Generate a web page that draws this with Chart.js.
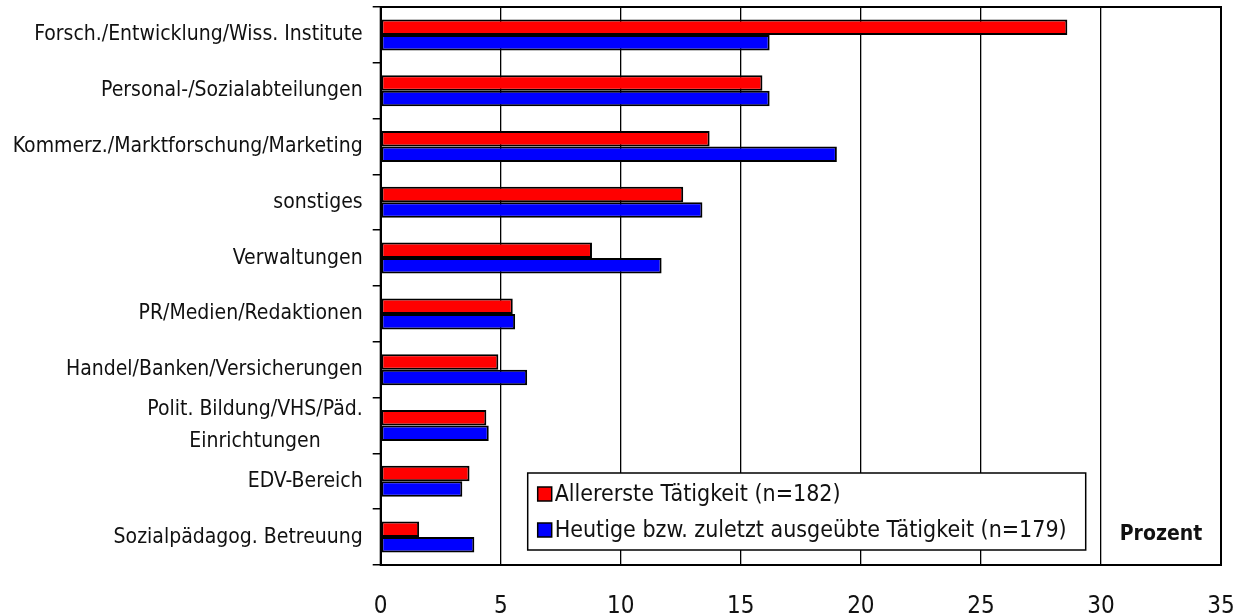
<!DOCTYPE html>
<html>
<head>
<meta charset="utf-8">
<script src="https://cdn.jsdelivr.net/npm/chart.js@4/dist/chart.umd.min.js"></script>
<style>
  body { margin: 0; background: #fff; }
  #wrap { width: 1246px; height: 616px; }
</style>
</head>
<body>
<div id="wrap"><canvas id="taetigkeitChart" width="1246" height="616"></canvas></div>
<script>
const categories = [
    'Forsch./Entwicklung/Wiss. Institute',
    'Personal-/Sozialabteilungen',
    'Kommerz./Marktforschung/Marketing',
    'sonstiges',
    'Verwaltungen',
    'PR/Medien/Redaktionen',
    'Handel/Banken/Versicherungen',
    ['Polit. Bildung/VHS/Päd.', 'Einrichtungen       '],
    'EDV-Bereich',
    'Sozialpädagog. Betreuung',
];
const allererste = [28.6, 15.9, 13.7, 12.6, 8.8, 5.5, 4.9, 4.4, 3.7, 1.6];
const heutige = [16.2, 16.2, 19.0, 13.4, 11.7, 5.6, 6.1, 4.5, 3.4, 3.9];
const seriesLabels = ['Allererste Tätigkeit (n=182)', 'Heutige bzw. zuletzt ausgeübte Tätigkeit (n=179)'];
const xMin = 0;
const xMax = 35;
const xStep = 5;
const unitLabel = 'Prozent';

const fontFamily = "'DejaVu Sans Condensed', 'DejaVu Sans', sans-serif";
const textColor = '#111';

// frame, legend box and unit label drawn on top of the plot
const extrasPlugin = {
    id: 'extras',
    afterDraw(chart) {
        const ctx = chart.ctx;
        const area = chart.chartArea;
        const xScale = chart.scales.x;
        ctx.save();
        ctx.strokeStyle = '#000';
        ctx.lineWidth = 2;
        ctx.strokeRect(area.left, area.top, area.right - area.left, area.bottom - area.top);

        // legend
        const boxLeft = area.left + 147;
        const boxTop = area.top + 466;
        const boxW = 558;
        const boxH = 77;
        ctx.fillStyle = '#fff';
        ctx.fillRect(boxLeft, boxTop, boxW, boxH);
        ctx.lineWidth = 1.5;
        ctx.strokeRect(boxLeft, boxTop, boxW, boxH);
        ctx.font = `23px ${fontFamily}`;
        ctx.textBaseline = 'middle';
        ctx.textAlign = 'left';
        chart.data.datasets.forEach((ds, i) => {
            const cy = boxTop + 21 + i * 36;
            ctx.fillStyle = ds.backgroundColor;
            ctx.fillRect(boxLeft + 10, cy - 7, 14, 14);
            ctx.strokeStyle = '#000';
            ctx.lineWidth = 1.5;
            ctx.strokeRect(boxLeft + 10, cy - 7, 14, 14);
            ctx.fillStyle = textColor;
            ctx.fillText(ds.label, boxLeft + 27, cy + 1);
        });

        // unit label
        ctx.font = `bold 21px ${fontFamily}`;
        ctx.textAlign = 'center';
        const ux = (xScale.getPixelForValue(30) + xScale.getPixelForValue(35)) / 2;
        ctx.fillText(unitLabel, ux, area.bottom - 30);
        ctx.restore();
    },
};

const ctx = document.getElementById('taetigkeitChart').getContext('2d');
new Chart(ctx, {
    type: 'bar',
    data: {
        labels: categories,
        datasets: [
            {
                label: seriesLabels[0],
                data: allererste,
                backgroundColor: '#ff0000',
                borderColor: '#000',
                borderWidth: 2,
                borderSkipped: false,
            },
            {
                label: seriesLabels[1],
                data: heutige,
                backgroundColor: '#0000ff',
                borderColor: '#000',
                borderWidth: 2,
                borderSkipped: false,
            },
        ],
    },
    options: {
        indexAxis: 'y',
        responsive: false,
        animation: false,
        datasets: {
            bar: {
                categoryPercentage: 0.556,
                barPercentage: 1,
            },
        },
        layout: {
            padding: { top: 7, right: 25, left: 0, bottom: 0 },
        },
        plugins: {
            legend: { display: false },
            tooltip: { enabled: false },
        },
        scales: {
            x: {
                min: xMin,
                max: xMax,
                ticks: {
                    stepSize: xStep,
                    padding: 27,
                    color: textColor,
                    font: { family: fontFamily, size: 24 },
                },
                grid: { color: '#000', lineWidth: 1.3, drawTicks: false },
                border: { color: '#000', width: 2 },
                afterFit: (scale) => {
                    scale.height = 51;
                    scale.paddingLeft = 0;
                    scale.paddingRight = 0;
                },
            },
            y: {
                grid: { drawOnChartArea: false, color: '#000', lineWidth: 1.5, tickLength: 8, offset: true },
                border: { color: '#000', width: 2 },
                ticks: {
                    autoSkip: false,
                    padding: 10,
                    color: textColor,
                    font: { family: fontFamily, size: 21, lineHeight: 1.5 },
                },
                afterFit: (scale) => {
                    scale.width = 380.7;
                    scale.paddingTop = 0;
                    scale.paddingBottom = 0;
                },
            },
        },
    },
    plugins: [extrasPlugin],
});
</script>
</body>
</html>
